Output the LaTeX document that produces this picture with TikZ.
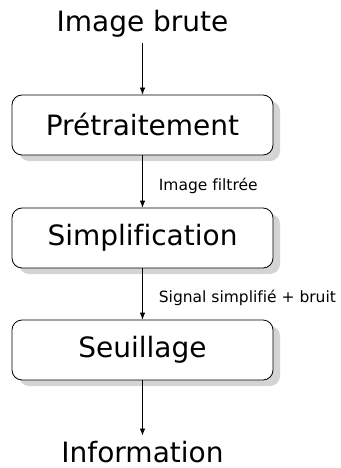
\documentclass[tikz,border=0pt]{standalone}
\usepackage{fontspec}
\setmainfont{DejaVu Sans}[Ligatures=NoCommon]
\usetikzlibrary{arrows.meta,positioning,shadows}

\begin{document}
\begin{tikzpicture}[x=1pt,y=-1pt,
  etape/.style={rectangle,rounded corners=10pt,draw=black,fill=white,line width=.8pt,
    minimum width=261pt,minimum height=60pt,font=\fontsize{28}{34}\selectfont,
    drop shadow={shadow xshift=7pt,shadow yshift=-6pt,fill=black!17,opacity=1}},
  flux/.style={font=\fontsize{28}{34}\selectfont,inner sep=5pt},
  arr/.style={-{Latex[length=7pt,width=5.5pt]},line width=.8pt},
  lbl/.style={font=\fontsize{15.5}{18}\selectfont,anchor=west,inner sep=0pt,
    xshift=16pt,yshift=-4pt}]
  \useasboundingbox (0,0) rectangle (340,468);
  % entree et sortie
  \node[flux,anchor=base] (brute) at (142.5,32)  {Image brute};
  \node[flux,anchor=base] (info)  at (142.5,462) {Information};
  % etapes du traitement
  \node[etape] (pretrait) at (142.5,125) {Prétraitement};
  \node[etape] (simplif)  at (142.5,238) {Simplification};
  \node[etape] (seuil)    at (142.5,350) {Seuillage};
  % fleches
  \draw[arr] (brute)    -- (pretrait);
  \draw[arr] (pretrait) -- node[lbl]{Image filtrée} (simplif);
  \draw[arr] (simplif)  -- node[lbl]{Signal simplifié + bruit} (seuil);
  \draw[arr] (seuil)    -- (info);
\end{tikzpicture}
\end{document}
